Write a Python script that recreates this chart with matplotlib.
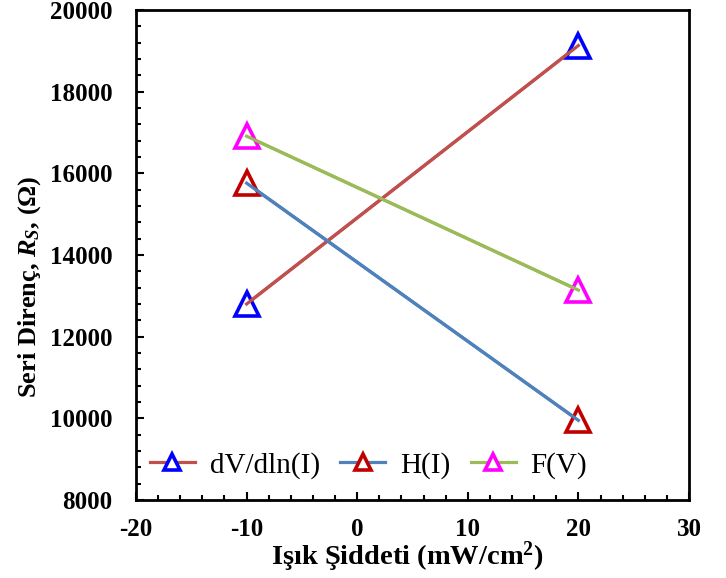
import matplotlib
matplotlib.use("Agg")
import matplotlib.pyplot as plt
from matplotlib.ticker import MultipleLocator

# data
intensity = [-10, 20]
rs_dvdln = [12800, 19130]
rs_hi = [15760, 9950]
rs_fv = [16910, 13140]

series = [
    ("dV/dln(I)", rs_dvdln, "#C0504D", "#0000FF"),
    ("H(I)", rs_hi, "#4F81BD", "#C00000"),
    ("F(V)", rs_fv, "#9BBB59", "#FF00FF"),
]

plt.rcParams['font.family'] = ['Liberation Serif', 'DejaVu Serif']
plt.rcParams['axes.unicode_minus'] = False
plt.rcParams['mathtext.fontset'] = 'custom'
plt.rcParams['mathtext.rm'] = 'Liberation Serif:bold'
plt.rcParams['mathtext.it'] = 'Liberation Serif:bold:italic'
plt.rcParams['mathtext.bf'] = 'Liberation Serif:bold'

fig = plt.figure(figsize=(7.26, 5.78), dpi=100)
ax = fig.add_axes([136 / 726, 1 - 500 / 578, 553 / 726, 490 / 578])

for name, vals, lc, mc in series:
    ax.plot(intensity, vals, color=lc, lw=2.3, marker='^', ms=17,
            mfc='white', mec=mc, mew=2.6, label=name, zorder=2)
    ax.plot(intensity, vals, color=lc, lw=2.3, zorder=3)

ax.set_xlim(-20, 30)
ax.set_ylim(8000, 20000)
ax.xaxis.set_major_locator(MultipleLocator(10))
ax.xaxis.set_minor_locator(MultipleLocator(2))
ax.yaxis.set_major_locator(MultipleLocator(2000))
ax.yaxis.set_minor_locator(MultipleLocator(400))

for s in ax.spines.values():
    s.set_linewidth(2.0)
ax.tick_params(which='both', direction='in', width=1.5, top=False, right=False)
ax.tick_params(which='major', length=6)
ax.tick_params(which='minor', length=3.5)
ax.tick_params(axis='x', which='major', pad=13)
ax.tick_params(axis='y', which='major', pad=17)
for lab in ax.get_xticklabels() + ax.get_yticklabels():
    lab.set_fontsize(18)
    lab.set_fontweight('bold')

ax.set_xlabel('Işık Şiddeti (mW/cm$^{2}$)', fontsize=20.5, fontweight='bold', va='center')
ax.xaxis.set_label_coords(0.49, -0.115)
ax.set_ylabel('Seri Direnç, $R_S$, (Ω)', fontsize=19, fontweight='bold', va='center')
ax.yaxis.set_label_coords(-0.193, 0.435)

ax.legend(loc='center left', bbox_to_anchor=(0.025, 0.071), ncol=3, frameon=False,
          fontsize=21, markerscale=0.65, handlelength=1.55, handletextpad=0.5,
          columnspacing=0.7, borderpad=0, borderaxespad=0)

fig.savefig('out.png', dpi=100)
